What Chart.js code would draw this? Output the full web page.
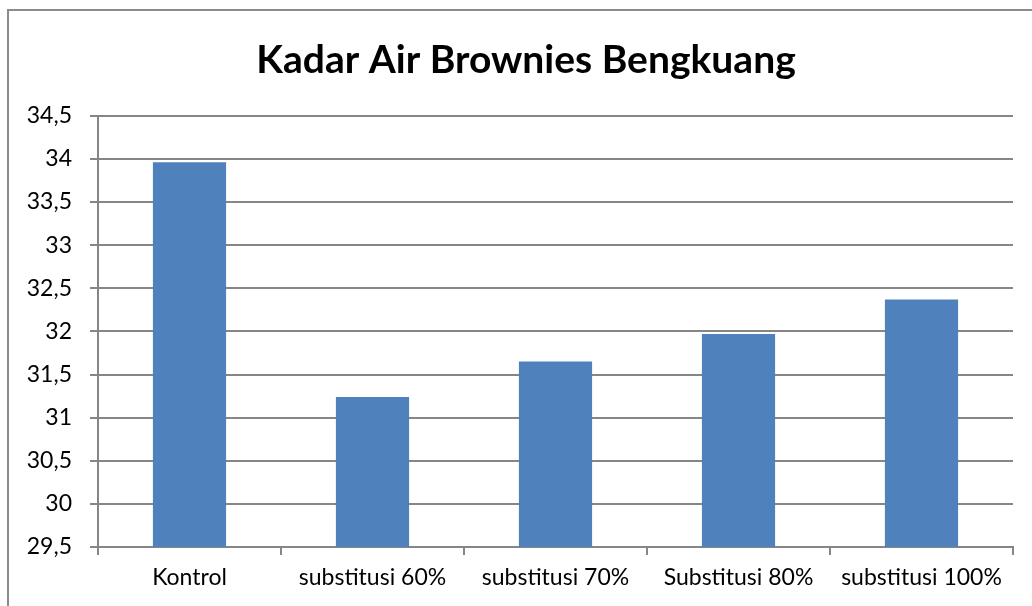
<!DOCTYPE html>
<html>
<head>
<meta charset="utf-8">
<script src="https://cdn.jsdelivr.net/npm/chart.js@4/dist/chart.umd.min.js"></script>
<style>
  html, body { margin: 0; padding: 0; background: #fff; }
  #wrap { width: 1032px; height: 606px; position: relative; }
</style>
</head>
<body>
<div id="wrap"><canvas id="kadarChart" width="1032" height="606"></canvas></div>
<script>
const categories = ['Kontrol', 'substitusi 60%', 'substitusi 70%', 'Substitusi 80%', 'substitusi 100%'];
const kadarAir = [33.96, 31.24, 31.65, 31.97, 32.37];
const yMin = 29.5;
const yMax = 34.5;
const yStep = 0.5;

const font = 'Lato, "Open Sans", sans-serif';

// outer frame (only top/left visible, rest is cut off in the original)
const framePlugin = {
  id: 'frame',
  beforeDraw(chart) {
    const ctx = chart.ctx;
    ctx.save();
    ctx.fillStyle = '#fff';
    ctx.fillRect(0, 0, chart.width, chart.height);
    ctx.strokeStyle = '#8c8c8c';
    ctx.lineWidth = 2;
    ctx.strokeRect(8, 10, 1100, 700);
    ctx.restore();
  }
};

const chart = new Chart(document.getElementById('kadarChart'), {
  type: 'bar',
  data: {
    labels: categories,
    datasets: [{
      label: 'Kadar Air',
      data: kadarAir,
      backgroundColor: '#4f81bd',
      borderWidth: 0,
      barPercentage: 0.4,
      categoryPercentage: 1
    }]
  },
  options: {
    responsive: false,
    animation: false,
    // left padding shifts the title centre right; y axis width makes up for it
    layout: { padding: { left: 20, right: 0, top: 0, bottom: 0 } },
    plugins: {
      legend: { display: false },
      tooltip: { enabled: false },
      title: {
        display: true,
        text: 'Kadar Air Brownies Bengkuang',
        color: '#000',
        font: { family: font, size: 39, weight: 'bold' },
        padding: { top: 37, bottom: 32 }
      }
    },
    scales: {
      x: {
        grid: {
          offset: true,
          drawOnChartArea: false,
          color: '#868686',
          lineWidth: 2,
          tickLength: 8
        },
        border: { color: '#868686', width: 2 },
        ticks: {
          color: '#000',
          font: { family: font, size: 23 },
          padding: 9,
          maxRotation: 0,
          autoSkip: false
        },
        afterFit(scale) { scale.height = 59; }
      },
      y: {
        min: yMin,
        max: yMax,
        ticks: {
          stepSize: yStep,
          color: '#000',
          font: { family: font, size: 23 },
          padding: 18,
          callback: v => String(v).replace('.', ',')
        },
        grid: {
          color: '#868686',
          lineWidth: 2,
          tickLength: 8
        },
        border: { color: '#868686', width: 2 },
        afterFit(scale) { scale.width = 78; }
      },
      // empty spacer on the right so the plot ends where the original does
      spacer: {
        type: 'linear',
        position: 'right',
        grid: { display: false, drawTicks: false },
        border: { display: false },
        ticks: { display: false },
        afterFit(scale) { scale.width = 19; }
      }
    }
  },
  plugins: [framePlugin]
});
</script>
</body>
</html>
